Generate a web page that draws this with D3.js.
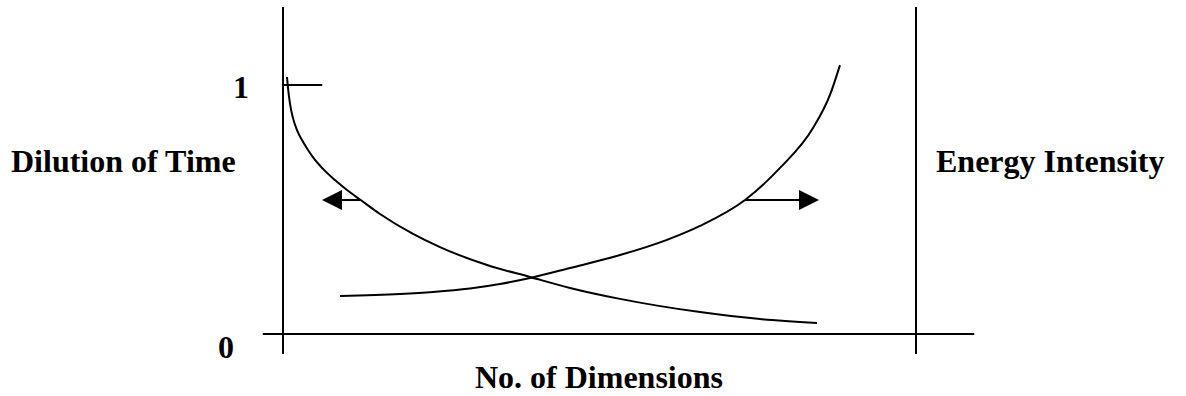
<!DOCTYPE html>
<html>
<head>
<meta charset="utf-8">
<script src="https://cdn.jsdelivr.net/npm/d3@7"></script>
<style>
  html, body { margin: 0; padding: 0; background: #fff; }
  svg { display: block; }
  text { font-family: "Liberation Serif", "Times New Roman", serif; font-weight: bold; fill: #000; }
</style>
</head>
<body>
<svg id="chart" width="1186" height="396"></svg>
<script>
// ---- data (dimension index on x, normalised value on y) ----
const dilutionX = [0.063, 0.079, 0.111, 0.158, 0.221, 0.300, 0.395, 0.506, 0.632, 0.821, 1.011, 1.216, 1.532, 2.054, 2.480, 3.223, 3.902, 4.534, 5.324, 6.588, 7.536, 8.436];
const dilutionY = [1.032, 0.988, 0.924, 0.867, 0.819, 0.779, 0.739, 0.699, 0.663, 0.618, 0.578, 0.540, 0.482, 0.402, 0.349, 0.277, 0.229, 0.185, 0.141, 0.088, 0.060, 0.044];
const energyX = [0.900, 1.848, 2.370, 2.954, 3.428, 3.902, 4.534, 5.324, 6.066, 6.588, 7.299, 7.852, 8.373, 8.641, 8.799];
const energyY = [0.153, 0.161, 0.169, 0.183, 0.201, 0.225, 0.265, 0.317, 0.378, 0.434, 0.538, 0.667, 0.827, 0.960, 1.080];
const tickLabels = ["0", "1"];
const axisTitles = ["Dilution of Time", "Energy Intensity", "No. of Dimensions"];
const arrowLevel = 0.538;
const leftArrow = [1.216, 0.616];   // from, to (dimension units)
const rightArrow = [7.299, 8.468];

const svg = d3.select("#chart");
const x = d3.scaleLinear().domain([0, 10]).range([283, 916]);
const y = d3.scaleLinear().domain([0, 1]).range([334, 85]);

const stroke = "#000";

// axes frame
svg.append("line").attr("x1", x(0)).attr("x2", x(0)).attr("y1", y(1.313)).attr("y2", y(-0.08))
  .attr("stroke", stroke).attr("stroke-width", 2);
svg.append("line").attr("x1", x(10)).attr("x2", x(10)).attr("y1", y(1.313)).attr("y2", y(-0.08))
  .attr("stroke", stroke).attr("stroke-width", 2);
svg.append("line").attr("x1", x(-0.32)).attr("x2", x(10.92)).attr("y1", y(0)).attr("y2", y(0))
  .attr("stroke", stroke).attr("stroke-width", 2);
// tick at 1
svg.append("line").attr("x1", x(0)).attr("x2", x(0.62)).attr("y1", y(1)).attr("y2", y(1))
  .attr("stroke", stroke).attr("stroke-width", 2);

// curves
const line = d3.line().x(d => x(d[0])).y(d => y(d[1])).curve(d3.curveMonotoneX);
svg.append("path").datum(d3.zip(dilutionX, dilutionY)).attr("d", line)
  .attr("fill", "none").attr("stroke", stroke).attr("stroke-width", 2);
svg.append("path").datum(d3.zip(energyX, energyY)).attr("d", line)
  .attr("fill", "none").attr("stroke", stroke).attr("stroke-width", 2);

// arrows
function arrow(from, to) {
  const dir = Math.sign(to - from);
  const yy = y(arrowLevel);
  const tip = x(to);
  const base = tip - dir * 20;
  svg.append("line").attr("x1", x(from)).attr("x2", base).attr("y1", yy).attr("y2", yy)
    .attr("stroke", stroke).attr("stroke-width", 2);
  svg.append("path").attr("d", `M${tip},${yy}L${base},${yy - 10}L${base},${yy + 10}Z`).attr("fill", stroke);
}
arrow(leftArrow[0], leftArrow[1]);
arrow(rightArrow[0], rightArrow[1]);

// labels
svg.append("text").attr("x", 241).attr("y", 98).attr("text-anchor", "middle").attr("font-size", 32).text(tickLabels[1]);
svg.append("text").attr("x", 226).attr("y", 358).attr("text-anchor", "middle").attr("font-size", 32).text(tickLabels[0]);
svg.append("text").attr("x", 11).attr("y", 172).attr("font-size", 32).text(axisTitles[0]);
svg.append("text").attr("x", 936).attr("y", 172).attr("font-size", 32).text(axisTitles[1]);
svg.append("text").attr("x", 599).attr("y", 388).attr("text-anchor", "middle").attr("font-size", 32).text(axisTitles[2]);
</script>
</body>
</html>
